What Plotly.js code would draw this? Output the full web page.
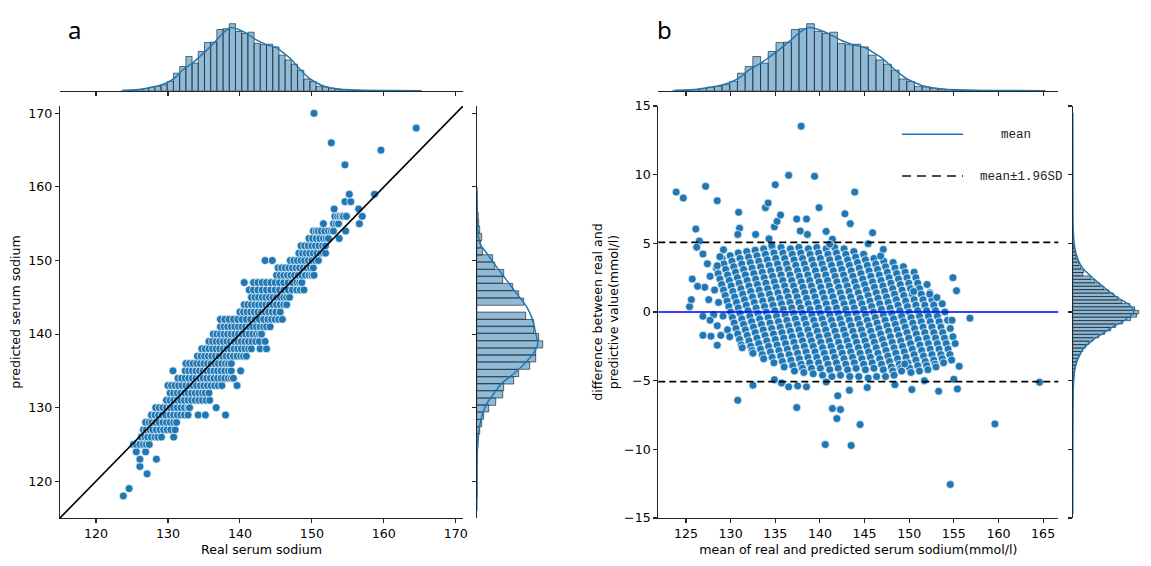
<!DOCTYPE html>
<html><head><meta charset="utf-8">
<script src="https://cdn.plot.ly/plotly-3.0.1.min.js"></script>
<style>html,body{margin:0;padding:0;background:#fff}#chart{width:1151px;height:566px}</style>
</head><body><div id="chart"></div>
<script>
// ================= DATA =================
// Panel a: predicted serum sodium (rows) and the real values seen on each row
const predRowsA = [118,119,121,122,123,124,125,126,127,128,129,130,131,132,133,134,135,136,137,138,139,140,141,142,143,144,145,146,147,148,149,150,151,152,153,154,155,156,157,158,159,163,165,166,168,170];
const realRowsA = [
 [123.8],[124.6],[127.1],[126.1],[126.1,128.4],[125.6,126.9],
 [125.2,125.6,126.1,126.6,127.0,127.4],
 [126.3,126.8,127.2,127.7,128.2,128.6,129.1,130.8],
 [126.6,127.0,127.5,127.9,128.4,128.9,129.4,129.9,130.4,131.0],
 [126.9,127.4,127.8,128.3,128.8,129.3,129.8,130.3,130.8,131.2],
 [127.7,128.2,128.7,129.2,129.7,130.3,130.8,131.3,131.8,132.3,132.8,134.2,135.2,138.0],
 [128.3,128.8,129.3,129.8,130.3,130.8,131.3,131.8,132.3,132.8,133.0,136.7],
 [129.8,130.3,130.8,131.3,131.8,132.3,132.8,133.3,133.8,134.3,134.8,135.3,135.8],
 [130.3,130.8,131.3,131.8,132.3,132.8,133.3,133.8,134.3,134.8,135.2,135.7],
 [130.0,130.5,131.0,131.5,132.0,132.5,133.0,133.5,134.0,134.5,135.0,135.5,136.0,136.5,137.0,137.5,139.6],
 [131.4,131.9,132.4,132.9,133.4,133.9,134.4,134.9,135.4,135.9,136.4,136.9,137.4,137.9,138.4,138.8,139.1],
 [130.7,132.4,132.9,133.4,133.9,134.4,134.9,135.4,135.9,136.4,136.9,137.4,137.9,138.4,138.8,140.1],
 [132.5,133.0,133.5,134.0,134.5,135.0,135.5,136.0,136.5,137.0,137.5,138.0,138.4,138.8],
 [134.1,134.6,135.1,135.6,136.1,136.6,137.1,137.6,138.1,138.6,139.1,139.6,140.1,140.5,140.9],
 [134.7,135.2,135.7,136.2,136.7,137.2,137.7,138.2,138.7,139.2,139.7,140.2,140.7,141.2,141.6,142.8,143.7],
 [135.7,136.2,136.7,137.2,137.7,138.2,138.7,139.2,139.7,140.2,140.7,141.2,141.7,142.2,142.7,143.5],
 [136.3,136.8,137.3,137.8,138.3,138.8,139.3,139.8,140.3,140.8,141.3,141.8,142.3,142.7,143.0],
 [137.3,137.8,138.3,138.8,139.3,139.8,140.3,140.8,141.3,141.8,142.3,142.8,143.3,143.7,144.2],
 [137.3,137.9,138.5,139.1,139.7,140.3,140.9,141.5,142.1,142.7,143.3,143.9,144.4,144.9,145.4,145.9],
 [140.0,140.5,141.0,141.5,142.0,142.5,143.0,143.5,144.0,144.5,145.0,145.6],
 [140.6,141.1,141.6,142.1,142.6,143.1,143.6,144.1,144.6,145.1,145.6,146.1,146.5],
 [141.6,142.1,142.6,143.1,143.6,144.1,144.6,145.1,145.6,146.1,146.5,146.9],
 [141.3,141.9,142.5,143.1,143.7,144.3,144.9,145.5,146.1,146.7,147.3,147.9,148.4,148.9],
 [140.6,141.9,142.5,143.1,143.7,144.3,144.9,145.5,146.1,146.7,147.3,147.9,148.3,148.6],
 [145.1,145.6,146.1,146.6,147.1,147.6,148.1,148.6,149.1,149.6,150.0,150.3],
 [145.3,145.8,146.3,146.8,147.3,147.8,148.3,148.8,149.3,149.8,150.2],
 [143.5,144.5,147.0,147.5,148.0,148.5,149.0,149.5,150.0,150.5,150.9],
 [148.2,148.7,149.2,149.7,150.2,150.7,151.2,151.6,151.9],
 [148.5,149.0,149.5,150.0,150.5,151.0,151.5,151.9],
 [149.6,150.1,150.6,151.1,151.6,152.0,152.3,153.8],
 [150.2,150.6,150.9,151.3,151.8,152.3,152.7,153.0,154.7],
 [151.6,153.0,153.4,153.7,156.6],
 [153.2,153.6,153.9,154.2,154.4,154.8,157.0],
 [153.1,156.5],[154.6,155.4],[155.2,158.7],[154.6],[159.6],[152.7],[164.5],[150.3]
];
const identityLine = [115, 171];

// Top marginal histograms (serum sodium), shared by both panels
const sodiumBinCenters = [124.30,125.16,126.02,126.89,127.75,128.61,129.47,130.33,131.20,132.06,132.92,133.78,134.64,135.51,136.37,137.23,138.09,138.95,139.82,140.68,141.54,142.40,143.26,144.13,144.99,145.85,146.71,147.57,148.44,149.30,150.16,151.02,151.88,152.75,153.61,154.47,155.33,156.19,157.06,157.92,158.78,159.64,160.50,161.37,162.23,163.09,163.95,164.81];
const sodiumBinCounts  = [0.4,0.7,1.2,2.3,3.3,4.3,6,9.3,17.5,24.2,34.2,27.5,39.2,48.3,48.5,61.2,62,67,59.2,57.2,58.5,47.3,46,46.5,43.8,35.5,30.8,26.5,20.5,11.7,9.2,4.3,3.8,2.5,1.5,1.2,0.8,0.5,0.4,0.3,0.3,0.2,0,0,0,0.2,0,0.2];
const kdeSodiumX = [123.5,125,126.5,127.5,128.7,129.8,131,132.1,133.3,134.4,135.6,136.8,137.7,138.6,139.5,140.5,141.4,142.5,143.7,145.1,146.0,146.9,147.9,148.8,149.7,150.7,151.5,152.5,154,156,158,161,165];
const kdeSodiumY = [0.3,0.8,1.8,3.3,5,7.7,13,21,27,34,42,51,58,63,62,59,55,50,46,43,38,33,25,18,12,7.7,5,3,1.5,0.7,0.3,0.1,0.05];

// Right marginal of panel a (predicted serum sodium)
const predBinCenters = [159.0,158.0,157.1,156.1,155.1,154.2,153.2,152.2,151.2,150.3,149.3,148.3,147.4,146.4,145.4,144.4,143.5,142.5,141.5,140.6,139.6,138.6,137.6,136.7,135.7,134.7,133.7,132.8,131.8,130.8,129.9,128.9,127.9,126.9,126.0,125.0,124.0,123.1,122.1,121.1,120.1,119.2,118.2];
const predBinCounts  = [0.3,0.5,0.7,1.5,2,3,5,4,5.7,16,18,27,26,36,42,47,0,49,57,57,62,66,59,59,53,42,37,27,26,19,12,7,5,3,1.5,1,0.5,0.5,0.3,0.3,0,0.3,0.3];
const kdePredValues  = [160,157,154.6,152.3,151.0,149.1,147.3,145.5,143.7,141.9,140.1,138.7,137.4,136.0,134.6,133.3,131.9,130.5,129.2,127.8,126.5,124.2,121.9,116];
const kdePredDensity = [0.1,0.4,0.7,3.3,10,20,30,40,50,56,59,61,57,48,37,25,17,10,6,3.3,2,0.7,0.3,0.1];

// Panel b: Bland-Altman. Each stripe = one real value, with the differences (real - predicted) observed
const baReal = [128,129,130,131,132,133,134,135,136,137,138,139,140,141,142,143,144,145,146,147,148,149,150,151,152,153,154];
const baDiffRows = [
 [1.8,0.9,-0.2,-1.0],
 [2.6,1.6,0.7,-0.3,-1.3,-1.8],
 [3.2,2.8,2.4,2.0,1.6,1.2,0.8,0.4,0.0,-0.4,-0.8,-1.2,-1.6,-2.0,-2.4,-2.6],
 [3.9,3.5,3.1,2.7,2.3,1.9,1.5,1.1,0.7,0.3,-0.1,-0.5,-0.9,-1.3,-1.7,-2.1,-2.5,-2.8,-3.0],
 [4.1,3.7,3.3,2.9,2.5,2.1,1.7,1.3,0.9,0.5,0.1,-0.3,-0.7,-1.1,-1.5,-1.9,-2.3,-2.7,-3.1,-3.4],
 [4.3,3.9,3.5,3.1,2.7,2.3,1.9,1.5,1.1,0.7,0.3,-0.1,-0.5,-0.9,-1.3,-1.7,-2.1,-2.5,-2.9,-3.3,-3.7],
 [4.4,4.0,3.6,3.2,2.8,2.4,2.0,1.6,1.2,0.8,0.4,0.0,-0.4,-0.8,-1.2,-1.6,-2.0,-2.4,-2.8,-3.2,-3.6,-4.0],
 [4.5,4.1,3.7,3.3,2.9,2.5,2.1,1.7,1.3,0.9,0.5,0.1,-0.3,-0.7,-1.1,-1.5,-1.9,-2.3,-2.7,-3.1,-3.5,-3.9,-4.3],
 [4.6,4.2,3.8,3.4,3.0,2.6,2.2,1.8,1.4,1.0,0.6,0.2,-0.2,-0.6,-1.0,-1.4,-1.8,-2.2,-2.6,-3.0,-3.4,-3.8,-4.1,-4.4],
 [4.7,4.3,3.9,3.5,3.1,2.7,2.3,1.9,1.5,1.1,0.7,0.3,-0.1,-0.5,-0.9,-1.3,-1.7,-2.1,-2.5,-2.9,-3.3,-3.7,-4.1,-4.5],
 [4.7,4.3,3.9,3.5,3.1,2.7,2.3,1.9,1.5,1.1,0.7,0.3,-0.1,-0.5,-0.9,-1.3,-1.7,-2.1,-2.5,-2.9,-3.3,-3.7,-4.1,-4.6],
 [4.6,4.2,3.8,3.4,3.0,2.6,2.2,1.8,1.4,1.0,0.6,0.2,-0.2,-0.6,-1.0,-1.4,-1.8,-2.2,-2.6,-3.0,-3.4,-3.8,-4.2,-4.7],
 [4.7,4.3,3.9,3.5,3.1,2.7,2.3,1.9,1.5,1.1,0.7,0.3,-0.1,-0.5,-0.9,-1.3,-1.7,-2.1,-2.5,-2.9,-3.3,-3.7,-4.1,-4.6],
 [4.6,4.2,3.8,3.4,3.0,2.6,2.2,1.8,1.4,1.0,0.6,0.2,-0.2,-0.6,-1.0,-1.4,-1.8,-2.2,-2.6,-3.0,-3.4,-3.8,-4.2,-4.7],
 [4.7,4.3,3.9,3.5,3.1,2.7,2.3,1.9,1.5,1.1,0.7,0.3,-0.1,-0.5,-0.9,-1.3,-1.7,-2.1,-2.5,-2.9,-3.3,-3.7,-4.1,-4.7],
 [4.6,4.2,3.8,3.4,3.0,2.6,2.2,1.8,1.4,1.0,0.6,0.2,-0.2,-0.6,-1.0,-1.4,-1.8,-2.2,-2.6,-3.0,-3.4,-3.8,-4.2,-4.8],
 [4.7,4.3,3.9,3.5,3.1,2.7,2.3,1.9,1.5,1.1,0.7,0.3,-0.1,-0.5,-0.9,-1.3,-1.7,-2.1,-2.5,-2.9,-3.3,-3.7,-4.1,-4.7],
 [4.6,4.2,3.8,3.4,3.0,2.6,2.2,1.8,1.4,1.0,0.6,0.2,-0.2,-0.6,-1.0,-1.4,-1.8,-2.2,-2.6,-3.0,-3.4,-3.8,-4.2,-4.7],
 [4.4,4.0,3.6,3.2,2.8,2.4,2.0,1.6,1.2,0.8,0.4,0.0,-0.4,-0.8,-1.2,-1.6,-2.0,-2.4,-2.8,-3.2,-3.6,-4.0,-4.3,-4.6],
 [4.2,3.8,3.4,3.0,2.6,2.2,1.8,1.4,1.0,0.6,0.2,-0.2,-0.6,-1.0,-1.4,-1.8,-2.2,-2.6,-3.0,-3.4,-3.8,-4.1,-4.3],
 [3.9,3.5,3.1,2.7,2.3,1.9,1.5,1.1,0.7,0.3,-0.1,-0.5,-0.9,-1.3,-1.7,-2.1,-2.5,-2.9,-3.3,-3.7,-4.1,-4.4],
 [3.7,3.3,2.9,2.5,2.1,1.7,1.3,0.9,0.5,0.1,-0.3,-0.7,-1.1,-1.5,-1.9,-2.3,-2.7,-3.1,-3.5,-3.9,-4.3],
 [3.6,3.2,2.8,2.4,2.0,1.6,1.2,0.8,0.4,0.0,-0.4,-0.8,-1.2,-1.6,-2.0,-2.4,-2.8,-3.2,-3.6,-3.9,-4.2],
 [3.3,2.9,2.5,2.1,1.7,1.3,0.9,0.5,0.1,-0.3,-0.7,-1.1,-1.5,-1.9,-2.3,-2.7,-3.1,-3.5,-3.8,-4.0],
 [2.9,2.5,2.1,1.7,1.3,0.9,0.5,0.1,-0.3,-0.7,-1.1,-1.5,-1.9,-2.3,-2.7,-3.1,-3.4,-3.7],
 [2.0,1.4,0.9,0.5,0.1,-0.3,-0.7,-1.1,-1.5,-1.9,-2.3,-2.7,-3.1,-3.5],
 [0.6,0.0,-0.6,-1.2,-1.8,-2.3]
];
// Isolated points of panel b, read as (mean, difference)
const baExtraMean = [123.9,124.7,127.2,128.5,126.1,126.5,126.2,126.9,127.4,125.7,126.3,125.4,125.6,126.9,127.7,130.9,131.0,130.8,128.5,128.8,129.2,133.9,134.2,135.0,134.9,135.2,135.6,136.5,137.4,138.5,137.9,137.8,138.6,139.4,139.9,140.7,141.4,141.1,142.8,143.4,143.9,145.9,145.4,132.8,134.3,134.6,147.1,146.8,154.9,155.3,152.3,153.1,150.5,154.8,156.8,130.8,132.5,137.4,140.7,141.4,142.3,142.0,141.9,140.6,143.5,144.5,154.6,159.6,164.6,153.3,155.0,155.4,155.6,150.3,149.5,148.4,145.3,143.3,138.5,137.5,136.5,135.7,134.9,151.7,126.9,127.8,128.9,128.5];
const baExtraDiff = [8.73,8.30,9.15,8.10,6.04,5.17,4.72,4.22,3.51,2.40,1.87,0.39,0.90,-0.31,-0.60,7.26,6.10,5.65,3.37,4.03,4.54,7.60,7.93,9.27,6.20,6.60,7.06,9.95,6.77,6.77,13.53,5.90,5.65,9.88,7.60,5.87,5.30,4.93,7.15,6.43,8.73,5.77,4.97,5.65,5.33,4.85,4.56,4.07,2.50,1.55,1.30,1.05,1.50,-0.60,-0.45,-6.43,-5.33,-6.96,-5.09,-7.03,-7.10,-6.10,-7.76,-9.65,-9.72,-8.20,-12.56,-8.15,-5.12,-5.77,-4.90,-5.60,-3.95,-5.65,-3.78,-5.30,-5.50,-5.70,-5.45,-5.38,-5.45,-5.17,-4.93,-5.00,-1.70,-1.76,-1.70,-2.42];
const meanDiff = 0.0, loaUpper = 5.07, loaLower = -5.07;

// Right marginal of panel b (difference)
const diffBinCenters = [5.0,4.75,4.5,4.25,4.0,3.75,3.5,3.25,3.0,2.75,2.5,2.25,2.0,1.75,1.5,1.25,1.0,0.75,0.5,0.25,0.0,-0.25,-0.5,-0.75,-1.0,-1.25,-1.5,-1.75,-2.0,-2.25,-2.5,-2.75,-3.0,-3.25,-3.5,-3.75,-4.0,-4.25,-4.5,-4.75,-5.0];
const diffBinCounts  = [0.5,1,1.8,2.6,3.4,4.5,6,8,11,10,18,22,27,31,36,41,45,49,57,62,66,64,58,50,43,38,32,26,20,16,13,10,8,6,4.5,3.5,2.7,2,1.5,1,0.6];
const kdeDiffValues  = [14.5,10,7,6,5,4.2,3.28,2.55,1.82,1.09,0.49,0,-0.6,-1.09,-1.57,-2.06,-2.55,-3.03,-4.0,-5,-6,-8,-12.5,-14.7];
const kdeDiffDensity = [0.1,0.2,0.3,0.5,1.5,3.5,9,19,31,44,57,61,52,40,30,20,12,7.5,2.5,1,0.5,0.3,0.1,0.05];

// Tick values / labels
const ticksA = [120,130,140,150,160,170];
const ticksBX = [125,130,135,140,145,150,155,160,165];
const ticksBY = [-15,-10,-5,0,5,10,15];
const ticksBYText = ['\u221215','\u221210','\u22125','0','5','10','15'];

// ================= BUILD =================
const aX = [], aY = [];
predRowsA.forEach((p, i) => realRowsA[i].forEach(r => { aX.push(r); aY.push(p); }));
const bX = [], bY = [];
baReal.forEach((r, i) => baDiffRows[i].forEach(d => { bX.push(r - d / 2); bY.push(d); }));
baExtraMean.forEach((m, i) => { bX.push(m); bY.push(baExtraDiff[i]); });

const W = 1151, H = 566;
const px = v => v / W, py = v => 1 - v / H;
const BLUE = '#1f77b4';
const ptMarker = {size: 8, color: BLUE, line: {color: '#ffffff', width: 0.7}};
const barStyle = {color: 'rgba(31,119,180,0.5)', line: {color: 'rgba(30,30,30,0.8)', width: 0.8}};
const kdeLine = {color: BLUE, width: 1.5, shape: 'spline', smoothing: 0.8};
const FONT = 'DejaVu Sans, sans-serif';
const FS = 12.6;

const traces = [
  {type: 'scatter', mode: 'markers', x: aX, y: aY, xaxis: 'x', yaxis: 'y', marker: ptMarker, hoverinfo: 'skip'},
  {type: 'scatter', mode: 'lines', x: identityLine, y: identityLine, xaxis: 'x', yaxis: 'y', line: {color: '#000', width: 1.6}},
  {type: 'bar', x: sodiumBinCenters, y: sodiumBinCounts, width: 0.862, xaxis: 'x2', yaxis: 'y2', marker: barStyle},
  {type: 'scatter', mode: 'lines', x: kdeSodiumX, y: kdeSodiumY, xaxis: 'x2', yaxis: 'y2', line: kdeLine},
  {type: 'bar', orientation: 'h', y: predBinCenters, x: predBinCounts, width: 0.972, xaxis: 'x3', yaxis: 'y3', marker: barStyle},
  {type: 'scatter', mode: 'lines', y: kdePredValues, x: kdePredDensity, xaxis: 'x3', yaxis: 'y3', line: kdeLine},
  {type: 'scatter', mode: 'markers', x: bX, y: bY, xaxis: 'x4', yaxis: 'y4', marker: ptMarker, hoverinfo: 'skip'},
  {type: 'bar', x: sodiumBinCenters, y: sodiumBinCounts, width: 0.862, xaxis: 'x5', yaxis: 'y5', marker: barStyle},
  {type: 'scatter', mode: 'lines', x: kdeSodiumX, y: kdeSodiumY, xaxis: 'x5', yaxis: 'y5', line: kdeLine},
  {type: 'bar', orientation: 'h', y: diffBinCenters, x: diffBinCounts, width: 0.25, xaxis: 'x6', yaxis: 'y6', marker: barStyle},
  {type: 'scatter', mode: 'lines', y: kdeDiffValues, x: kdeDiffDensity, xaxis: 'x6', yaxis: 'y6', line: kdeLine}
];

const spine = {showline: true, linecolor: '#262626', linewidth: 1.1, ticks: 'outside', ticklen: 4, tickwidth: 1.1, tickcolor: '#262626',
  showgrid: false, zeroline: false, tickfont: {family: FONT, size: FS, color: '#000'}};
const hidden = {visible: false, showgrid: false, zeroline: false};
const mainYDom = [py(518), py(106)];
const topYDom = [py(90.7), py(8.7)];
const axTitle = (t, s) => ({text: t, font: {family: FONT, size: FS, color: '#000'}, standoff: s});

const layout = {
  width: W, height: H, margin: {l: 0, r: 0, t: 0, b: 0},
  paper_bgcolor: '#fff', plot_bgcolor: 'rgba(0,0,0,0)', showlegend: false, bargap: 0,
  xaxis: Object.assign({}, spine, {domain: [px(60), px(463)], range: [115, 171], tickvals: ticksA, anchor: 'y', title: axTitle('Real serum sodium', 5)}),
  yaxis: Object.assign({}, spine, {domain: mainYDom, range: [115, 171], tickvals: ticksA, anchor: 'x', title: axTitle('predicted serum sodium', 4)}),
  xaxis2: Object.assign({}, spine, {domain: [px(60), px(463)], range: [115, 171], tickvals: ticksA, showticklabels: false, anchor: 'y2'}),
  yaxis2: Object.assign({}, hidden, {domain: topYDom, range: [0, 82], anchor: 'x2'}),
  xaxis3: Object.assign({}, hidden, {domain: [px(476.7), px(558.7)], range: [0, 82], anchor: 'y3'}),
  yaxis3: Object.assign({}, spine, {domain: mainYDom, range: [115, 171], tickvals: ticksA, showticklabels: false, anchor: 'x3'}),
  xaxis4: Object.assign({}, spine, {domain: [px(658.3), px(1058.3)], range: [121.9, 166.7], tickvals: ticksBX, anchor: 'y4',
    title: axTitle('mean of real and predicted serum sodium(mmol/l)', 5)}),
  yaxis4: Object.assign({}, spine, {domain: mainYDom, range: [-15, 15], tickvals: ticksBY, ticktext: ticksBYText, anchor: 'x4',
    title: axTitle('difference between real and<br>predictive value(mmol/l)', 2)}),
  xaxis5: Object.assign({}, spine, {domain: [px(658.3), px(1058.3)], range: [121.9, 166.7], tickvals: ticksBX, showticklabels: false, anchor: 'y5'}),
  yaxis5: Object.assign({}, hidden, {domain: topYDom, range: [0, 82], anchor: 'x5'}),
  xaxis6: Object.assign({}, hidden, {domain: [px(1072.7), 1], range: [0, 78.3], anchor: 'y6'}),
  yaxis6: Object.assign({}, spine, {domain: mainYDom, range: [-15, 15], tickvals: ticksBY, showticklabels: false, anchor: 'x6'}),
  shapes: [
    {type: 'line', xref: 'x4 domain', yref: 'y4', x0: 0, x1: 1, y0: meanDiff, y1: meanDiff, line: {color: '#0000ff', width: 1.6}},
    {type: 'line', xref: 'x4 domain', yref: 'y4', x0: 0, x1: 1, y0: loaUpper, y1: loaUpper, line: {color: '#000', width: 1.6, dash: '7px,4px'}},
    {type: 'line', xref: 'x4 domain', yref: 'y4', x0: 0, x1: 1, y0: loaLower, y1: loaLower, line: {color: '#000', width: 1.6, dash: '7px,4px'}},
    // legend samples
    {type: 'line', xref: 'paper', yref: 'paper', x0: px(902), x1: px(963), y0: py(134.3), y1: py(134.3), line: {color: '#1874cd', width: 1.6}},
    {type: 'line', xref: 'paper', yref: 'paper', x0: px(902), x1: px(963), y0: py(176), y1: py(176), line: {color: '#111', width: 1.6, dash: '9px,6px'}}
  ],
  annotations: [
    {text: 'mean', xref: 'paper', yref: 'paper', x: px(999), y: py(135), xanchor: 'left', yanchor: 'middle', showarrow: false,
      font: {family: 'Liberation Mono, monospace', size: 12.5, color: '#222'}},
    {text: 'mean\u00b11.96SD', xref: 'paper', yref: 'paper', x: px(978), y: py(177), xanchor: 'left', yanchor: 'middle', showarrow: false,
      font: {family: 'Liberation Mono, monospace', size: 12.5, color: '#222'}},
    {text: 'a', xref: 'paper', yref: 'paper', x: px(66), y: py(29), xanchor: 'left', yanchor: 'middle', showarrow: false,
      font: {family: 'Noto Sans, sans-serif', size: 24, color: '#000'}},
    {text: 'b', xref: 'paper', yref: 'paper', x: px(655), y: py(29), xanchor: 'left', yanchor: 'middle', showarrow: false,
      font: {family: 'Noto Sans, sans-serif', size: 24, color: '#000'}}
  ]
};

Plotly.newPlot('chart', traces, layout, {displayModeBar: false, staticPlot: true});
</script></body></html>
